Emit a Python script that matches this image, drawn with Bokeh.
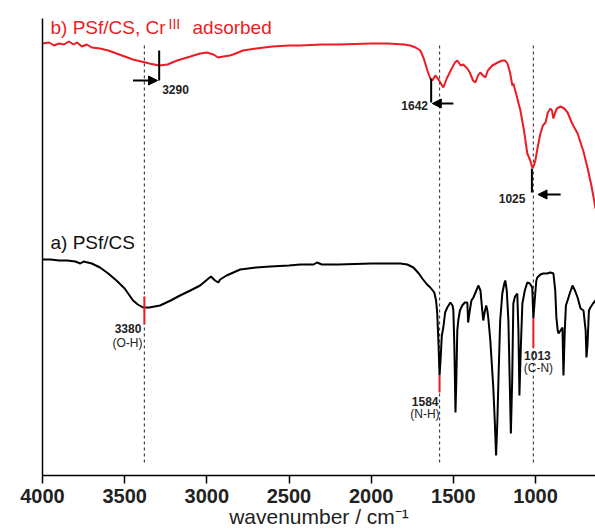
import math
from bokeh.plotting import figure
from bokeh.models import Range1d, FixedTicker, Label, Arrow, NormalHead
from bokeh.embed import file_html
from bokeh.resources import INLINE

# ---------------- data ----------------
# b) PSf/CS, Cr(III) adsorbed  (wavenumber, transmittance in arbitrary units)
wn_b = [4000, 3960, 3930, 3900, 3870, 3840, 3810, 3790, 3760, 3730, 3700, 3650, 3600,
        3550, 3500, 3450, 3400, 3350, 3290, 3240, 3180, 3100, 3041, 3000, 2960, 2931,
        2900, 2860, 2840, 2780, 2700, 2600, 2500, 2432, 2300, 2200, 2000, 1900, 1800,
        1762, 1730, 1701, 1680, 1658, 1640, 1628, 1610, 1590, 1561, 1540, 1510, 1490,
        1476, 1455, 1440, 1415, 1400, 1380, 1366, 1350, 1336, 1320, 1305, 1290, 1263,
        1230, 1202, 1185, 1171, 1155, 1141, 1135, 1120, 1092, 1070, 1050, 1032, 1020,
        1010, 1001, 985, 970, 955, 939, 925, 909, 900, 891, 880, 870, 848, 825, 805,
        780, 744, 710, 684, 660, 640, 635]
t_b = [432, 433, 430, 432, 431, 434, 431, 433, 429, 431, 428, 427, 425,
       422, 419, 416, 414, 412, 410, 411, 415, 419, 422, 423, 421, 418,
       419, 420, 421, 425, 427, 429, 430, 430, 431, 431, 432, 432, 431,
       430, 428, 425, 417, 405, 397, 395, 400, 396, 388, 397, 407, 413,
       415, 410, 411, 407, 403, 395, 393, 400, 403, 400, 398, 405, 410,
       413, 415, 415, 412, 403, 390, 392, 383, 365, 345, 322, 315, 308,
       310, 315, 330, 342, 350, 353, 363, 367, 365, 357, 363, 367, 369, 367, 363,
       353, 342, 325, 308, 290, 272, 267]

# a) PSf/CS
wn_a = [4000, 3950, 3900, 3850, 3800, 3770, 3750, 3700, 3650, 3600, 3550, 3500, 3449,
        3420, 3388, 3350, 3285, 3220, 3163, 3100, 3041, 2990, 2975, 2950, 2930, 2919,
        2880, 2797, 2700, 2614, 2500, 2432, 2350, 2330, 2300, 2200, 2000, 1900, 1823,
        1780, 1743, 1710, 1689, 1660, 1640, 1616, 1605, 1598, 1590, 1584, 1578, 1570,
        1561, 1550, 1537, 1518, 1505, 1500, 1494, 1487, 1482, 1476, 1470, 1460, 1446,
        1430, 1415, 1410, 1400, 1390, 1378, 1360, 1348, 1335, 1324, 1318, 1310, 1300,
        1293, 1287, 1275, 1257, 1248, 1240, 1232, 1224, 1215, 1202, 1190, 1184, 1175,
        1165, 1157, 1150, 1142, 1135, 1125, 1111, 1104, 1098, 1090, 1080, 1065, 1050,
        1035, 1020, 1013, 1005, 995, 989, 970, 953, 930, 910, 891, 880, 873, 865, 860,
        848, 836, 830, 822, 815, 805, 790, 775, 760, 744, 726, 708, 695, 690, 684,
        675, 666, 650, 635]
t_a = [216, 216, 215, 215, 214, 212, 214, 212, 208, 202, 195, 187, 175,
       171, 168, 168, 170, 175, 180, 185, 190, 197, 199, 195, 193, 196,
       200, 206, 208, 209, 210, 211, 211, 213, 211, 211, 212, 212, 212,
       211, 208, 202, 197, 191, 188, 183, 175, 162, 130, 100, 115, 140,
       148, 163, 168, 173, 170, 165, 130, 63, 95, 145, 155, 165, 170,
       173, 173, 153, 165, 175, 178, 185, 190, 185, 165, 155, 163, 170,
       165, 157, 135, 88, 55, 20, 55, 105, 155, 182, 192, 195, 185,
       155, 95, 42, 95, 172, 179, 182, 145, 80, 125, 172, 185, 193,
       192, 188, 157, 175, 195, 198, 201, 202, 202, 203, 202, 185, 158, 145, 142,
       145, 148, 100, 145, 170, 175, 183, 190, 185, 178, 167, 165, 145, 118, 130,
       165, 168, 172, 175]

x_ticks = [4000, 3500, 3000, 2500, 2000, 1500, 1000]
guide_lines = [3380, 1584, 1013]

RED = "#ec1c24"
FONT = "Liberation Sans"

p = figure(width=595, height=530, output_backend="svg", toolbar_location=None,
           x_range=Range1d(4000, 635), y_range=Range1d(0, 457),
           min_border_left=42, min_border_right=0, min_border_top=18, min_border_bottom=55)
p.outline_line_color = None
p.grid.visible = False
p.background_fill_color = "white"
p.border_fill_color = "white"

# x axis
xa = p.xaxis[0]
xa.ticker = FixedTicker(ticks=x_ticks)
xa.axis_label = "wavenumber / cm\u207b\u00b9"
xa.axis_label_text_font = FONT
xa.axis_label_text_font_size = "21px"
xa.axis_label_text_font_style = "normal"
xa.axis_label_text_color = "#222222"
xa.axis_label_standoff = -1
xa.major_label_text_font = FONT
xa.major_label_text_font_size = "20px"
xa.major_label_text_font_style = "bold"
xa.major_label_text_color = "#222222"
xa.major_label_standoff = 5
xa.major_tick_out = 8
xa.major_tick_in = 0
xa.minor_tick_line_color = None
xa.axis_line_width = 1.5
xa.major_tick_line_width = 1.5

# y axis (no ticks)
ya = p.yaxis[0]
ya.ticker = FixedTicker(ticks=[])
ya.major_tick_line_color = None
ya.minor_tick_line_color = None
ya.major_label_text_font_size = "0px"
ya.axis_line_width = 1.5

# guide lines
for g in guide_lines:
    p.segment(x0=g, y0=13, x1=g, y1=433, line_color="#444444", line_width=1.2, line_dash="3 3")

# spectra
p.line(wn_b, t_b, line_color=RED, line_width=2)
p.line(wn_a, t_a, line_color="black", line_width=2)

# red markers on spectrum a
for x0, y0, y1 in [(3380, 179, 151), (1584, 100, 83), (1013, 157, 128)]:
    p.segment(x0=x0, y0=y0, x1=x0, y1=y1, line_color=RED, line_width=2)

# black markers on spectrum b
for x0, y0, y1 in [(3290, 425, 395), (1635, 397, 373), (1022, 307, 283)]:
    p.segment(x0=x0, y0=y0, x1=x0, y1=y1, line_color="black", line_width=2)

for xs, xe, yy in [(3449, 3300, 395), (1500, 1628, 372), (847, 985, 281)]:
    p.add_layout(Arrow(end=NormalHead(size=9, fill_color="black", line_color="black"),
                       x_start=xs, y_start=yy, x_end=xe, y_end=yy,
                       line_color="black", line_width=2))

def lab(x, y, text, size="12px", style="bold", align="left", color="#222222",
        baseline="middle", x_offset=0, y_offset=0, angle=0):
    p.add_layout(Label(x=x, y=y, text=text, text_font=FONT, text_font_size=size,
                       text_font_style=style, text_align=align, text_color=color,
                       text_baseline=baseline, x_offset=x_offset, y_offset=y_offset,
                       angle=angle))

# peak labels
lab(3290, 386, "3290", x_offset=3)
lab(1642, 370, "1642", align="right", x_offset=-2)
lab(1025, 277, "1025", align="right", x_offset=-6)
lab(3380, 147, "3380", align="right", x_offset=-3)
lab(3380, 133, "(O-H)", align="right", x_offset=-2, style="normal")
lab(1584, 74, "1584", align="right", x_offset=-1)
lab(1584, 62, "(N-H)", align="right", x_offset=0, style="normal")
lab(1013, 120, "1013", align="center", x_offset=4)
lab(1013, 108, "(C-N)", align="center", x_offset=5, style="normal")

# series titles
lab(4000, 448, "b) PSf/CS, Cr", size="19px", style="normal", color=RED, x_offset=8)
lab(4000, 452, "III", size="14px", style="normal", color=RED, x_offset=126)
lab(4000, 448, "adsorbed", size="19px", style="normal", color=RED, x_offset=150)
lab(4000, 233, "a) PSf/CS", size="19px", style="normal", color="#111111", x_offset=8)

# y axis title
lab(4000, 243, "transmittance / %", size="21px", style="normal", color="#222222",
    align="center", x_offset=-17, angle=math.pi / 2)

open("out.html", "w").write(file_html(p, INLINE))
